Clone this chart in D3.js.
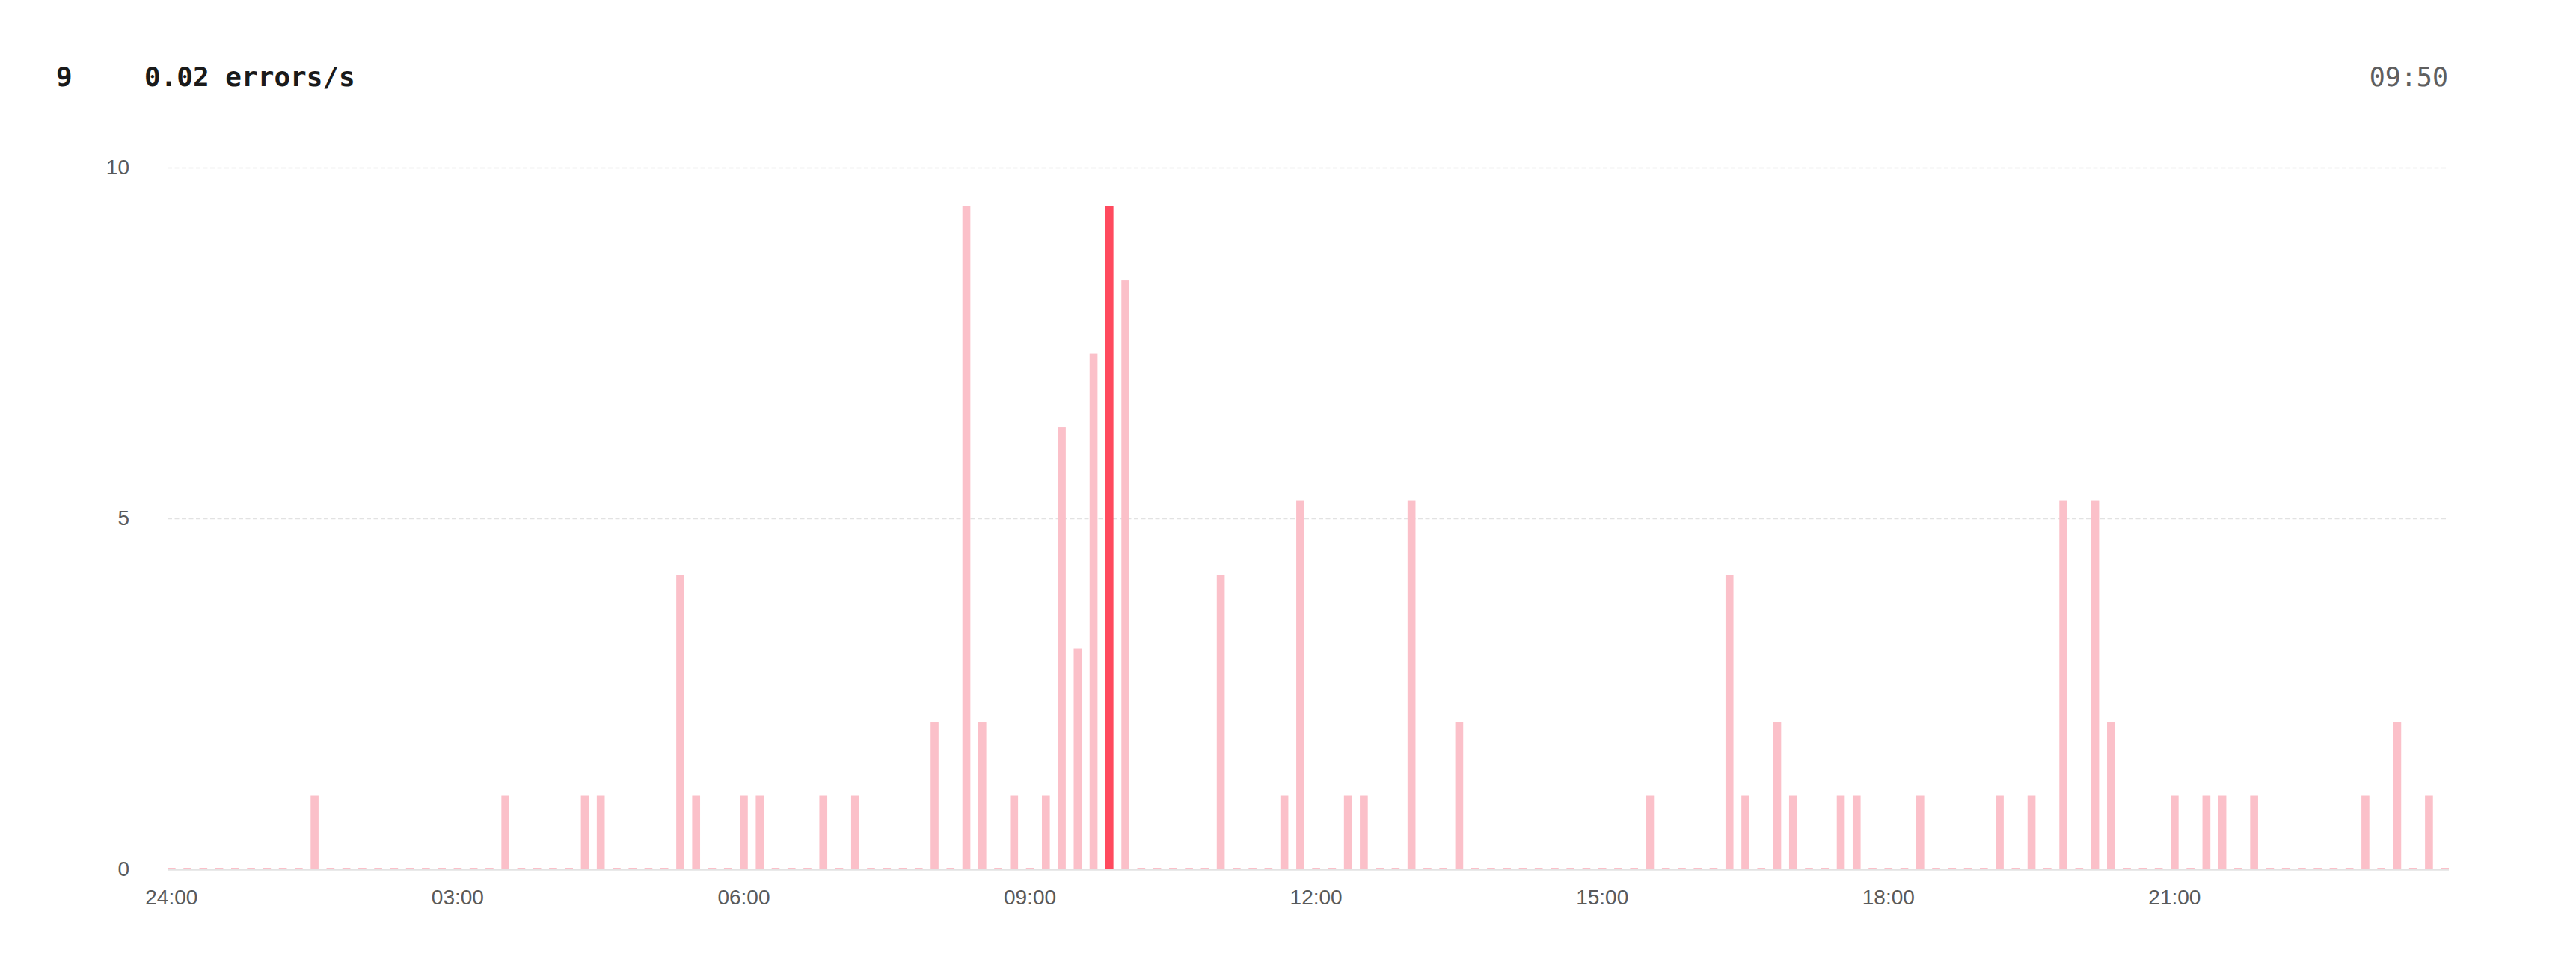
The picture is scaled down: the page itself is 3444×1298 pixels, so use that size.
<!DOCTYPE html>
<html>
<head>
<meta charset="utf-8">
<script src="https://cdn.jsdelivr.net/npm/d3@7"></script>
<style>
  html, body { margin: 0; padding: 0; background: #fff; }
  svg { display: block; }
</style>
</head>
<body>
<svg id="chart" width="3444" height="1298"></svg>
<script>
// ---- data ----
// 10-minute error counts (rows of 12 = 2 hours)
const values = [
  0, 0, 0, 0, 0, 0, 0, 0, 0, 1.05, 0, 0,
  0, 0, 0, 0, 0, 0, 0, 0, 0, 1.05, 0, 0,
  0, 0, 1.05, 1.05, 0, 0, 0, 0, 4.2, 1.05, 0, 0,
  1.05, 1.05, 0, 0, 0, 1.05, 0, 1.05, 0, 0, 0, 0,
  2.1, 0, 9.45, 2.1, 0, 1.05, 0, 1.05, 6.3, 3.15, 7.35, 9.45,
  8.4, 0, 0, 0, 0, 0, 4.2, 0, 0, 0, 1.05, 5.25,
  0, 0, 1.05, 1.05, 0, 0, 5.25, 0, 0, 2.1, 0, 0,
  0, 0, 0, 0, 0, 0, 0, 0, 0, 1.05, 0, 0,
  0, 0, 4.2, 1.05, 0, 2.1, 1.05, 0, 0, 1.05, 1.05, 0,
  0, 0, 1.05, 0, 0, 0, 0, 1.05, 0, 1.05, 0, 5.25,
  0, 5.25, 2.1, 0, 0, 0, 1.05, 0, 1.05, 1.05, 0, 1.05,
  0, 0, 0, 0, 0, 0, 1.05, 0, 2.1, 0, 1.05, 0
];
const hours = ["00","01","02","03","04","05","06","07","08","09","10","11",
               "12","13","14","15","16","17","18","19","20","21","22","23"];
const minutes = ["00","10","20","30","40","50"];
const slots = hours.flatMap(h => minutes.map(m => h + ":" + m));
const tickSlots = ["00:00","03:00","06:00","09:00","12:00","15:00","18:00","21:00"];
const tickLabels = ["24:00","03:00","06:00","09:00","12:00","15:00","18:00","21:00"];
const yTicks = [0, 5, 10];
const highlightSlot = "09:50";
const headerCount = "9";
const headerRate = "0.02 errors/s";

// ---- layout ----
const plotLeft = 224, plotRight = 3274, plotTop = 224, plotBottom = 1162;
const svg = d3.select("#chart");

const x = d3.scaleBand().domain(slots).range([plotLeft, plotRight]).paddingInner(0.5).paddingOuter(0);
const y = d3.scaleLinear().domain([0, 10]).range([plotBottom, plotTop]);

// gridlines + y labels
const yAxis = d3.axisLeft(y).tickValues(yTicks).tickSize(-(plotRight - plotLeft - 2)).tickPadding(51).tickFormat(d3.format("d"));
const gy = svg.append("g").attr("transform", `translate(${plotLeft},0)`).call(yAxis);
gy.select(".domain").remove();
gy.selectAll(".tick line")
  .attr("stroke", "#e2e2e2")
  .attr("stroke-width", 1.5)
  .attr("stroke-dasharray", d => d === 0 ? null : "6,3.5")
  .attr("opacity", d => d === 0 ? 0 : 1);
gy.selectAll(".tick text")
  .attr("fill", "#5a5a5a")
  .style("font-family", "'Liberation Sans', Arial, Helvetica, sans-serif")
  .style("font-size", "28px");

// baseline
svg.append("line")
  .attr("x1", plotLeft).attr("x2", plotRight)
  .attr("y1", y(0) + 0.75).attr("y2", y(0) + 0.75)
  .attr("stroke", "#e3e3e3").attr("stroke-width", 2);

// bars
svg.append("g").selectAll("rect")
  .data(slots.map((s, i) => ({ slot: s, value: values[i] })))
  .join("rect")
  .attr("x", d => x(d.slot))
  .attr("width", x.bandwidth())
  .attr("y", d => Math.min(y(d.value), y(0) - 2))
  .attr("height", d => Math.max(y(0) - y(d.value), 2))
  .attr("fill", d => d.slot === highlightSlot ? "#ff4a5e" : "#fbc0c9");

// x axis labels
const xAxis = d3.axisBottom(x).tickValues(tickSlots).tickSize(0).tickPadding(0)
  .tickFormat(d => tickLabels[tickSlots.indexOf(d)]);
const gx = svg.append("g").attr("transform", `translate(0,${plotBottom})`).call(xAxis);
gx.select(".domain").remove();
gx.selectAll(".tick text")
  .attr("y", 37).attr("dy", "0.35em")
  .attr("fill", "#5a5a5a")
  .style("font-family", "'Liberation Sans', Arial, Helvetica, sans-serif")
  .style("font-size", "28px");

// header
const mono = "'DejaVu Sans Mono', 'Liberation Mono', monospace";
svg.append("text").attr("x", 75).attr("y", 115)
  .style("font-family", mono).style("font-size", "36px").style("font-weight", "bold")
  .attr("fill", "#1a1a1a").text(headerCount);
svg.append("text").attr("x", 193).attr("y", 115)
  .style("font-family", mono).style("font-size", "36px").style("font-weight", "bold")
  .attr("fill", "#1a1a1a").text(headerRate);
svg.append("text").attr("x", 3273).attr("y", 115).attr("text-anchor", "end")
  .style("font-family", mono).style("font-size", "35px")
  .attr("fill", "#5f5f5f").text(highlightSlot);
</script>
</body>
</html>
